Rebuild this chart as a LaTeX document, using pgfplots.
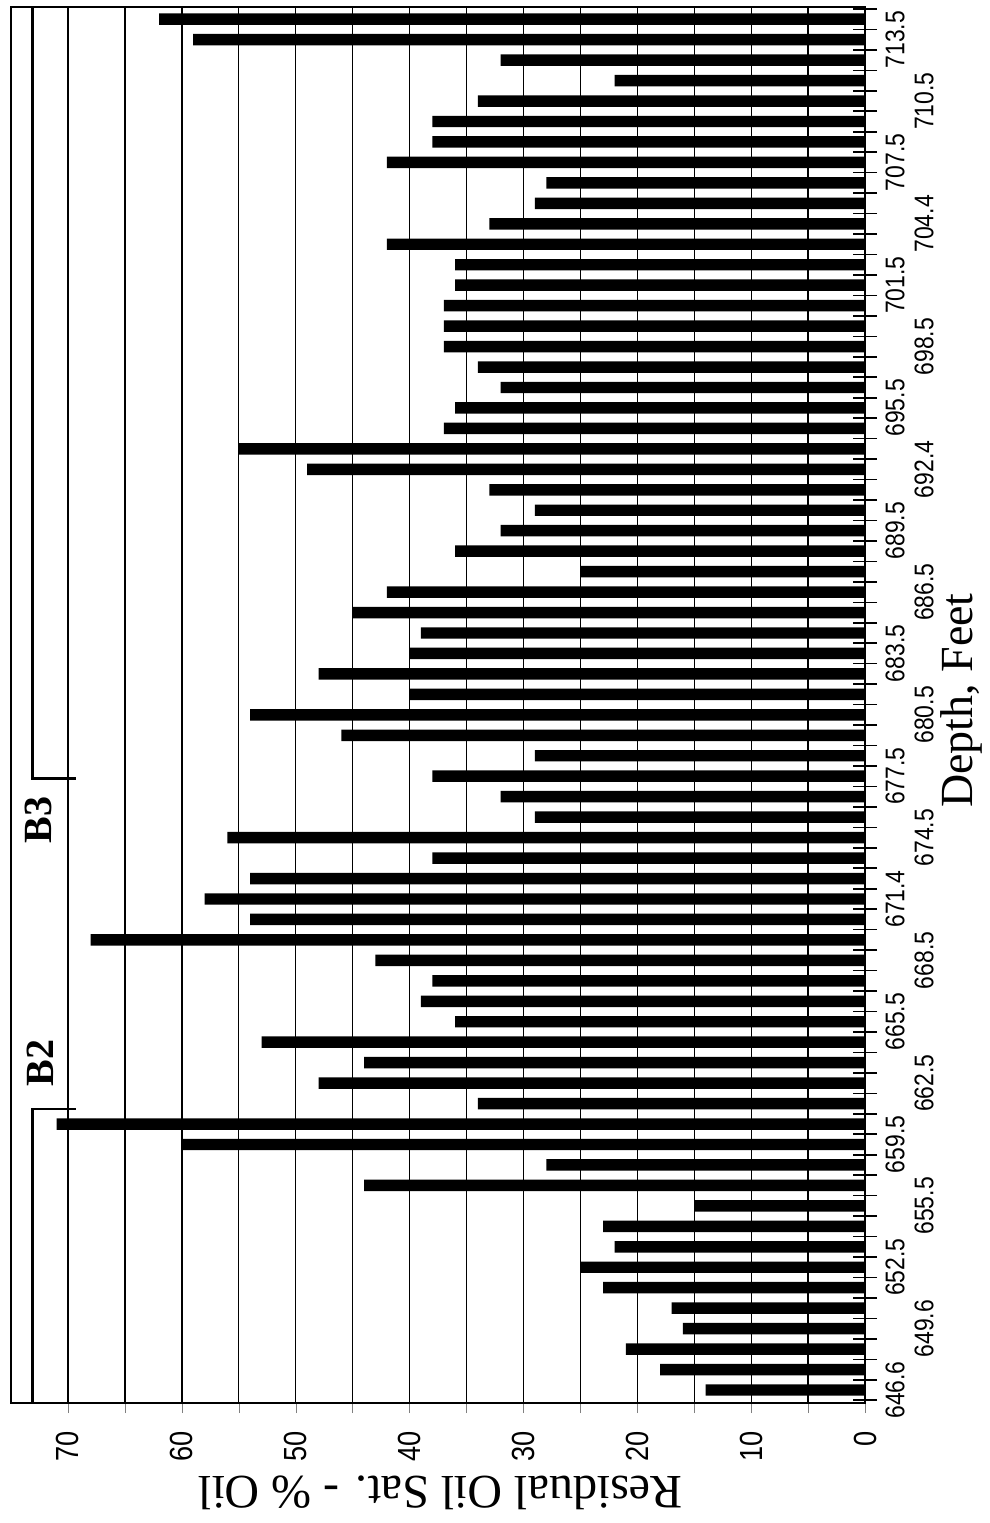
\documentclass[border=0pt]{standalone}
\usepackage{graphicx}
\usepackage{fontspec}
\setmainfont{Liberation Serif}
\newfontfamily\tickfont{Liberation Sans}[FakeStretch=0.85]
\usepackage{pgfplots}
\pgfplotsset{compat=1.18}
\newcommand{\vl}[1]{\rotatebox{90}{#1}}
\pgfplotstableread{
i v
0 14
1 18
2 21
3 16
4 17
5 23
6 25
7 22
8 23
9 15
10 44
11 28
12 60
13 71
14 34
15 48
16 44
17 53
18 36
19 39
20 38
21 43
22 68
23 54
24 58
25 54
26 38
27 56
28 29
29 32
30 38
31 29
32 46
33 54
34 40
35 48
36 40
37 39
38 45
39 42
40 25
41 36
42 32
43 29
44 33
45 49
46 55
47 37
48 36
49 32
50 34
51 37
52 37
53 37
54 36
55 36
56 42
57 33
58 29
59 28
60 42
61 38
62 38
63 34
64 22
65 32
66 59
67 62
}\oildata
\begin{document}
\begin{tikzpicture}
\begin{axis}[
  scale only axis,
  width=427pt, height=698pt,
  x dir=reverse,
  xmin=0, xmax=75,
  ymin=-0.64, ymax=67.6,
  clip=false,
  axis line style={line width=1pt},
  xtick pos=left,
  ytick pos=right,
  yticklabel pos=right,
  xtick={0,5,...,70},
  xticklabels={\vl{0},,\vl{10},,\vl{20},,\vl{30},,\vl{40},,\vl{50},,\vl{60},,\vl{70}},
  xtick align=outside,
  major tick length=5pt,
  minor tick length=12pt,
  xmajorgrids,
  grid style={black, line width=0.7pt},
  xticklabel style={font=\tickfont\fontsize{16}{16}\selectfont, anchor=north, inner sep=0pt, yshift=-9pt},
  ytick={0,3,...,66},
  yticklabels={\vl{646.6},\vl{649.6},\vl{652.5},\vl{655.5},\vl{659.5},\vl{662.5},\vl{665.5},\vl{668.5},\vl{671.4},\vl{674.5},\vl{677.5},\vl{680.5},\vl{683.5},\vl{686.5},\vl{689.5},\vl{692.4},\vl{695.5},\vl{698.5},\vl{701.5},\vl{704.4},\vl{707.5},\vl{710.5},\vl{713.5}},
  major y tick style={draw=none},
  minor ytick={-0.5,0.5,...,67.5},
  ytick align=center,
  minor y tick style={line width=0.8pt, black},
  yticklabel style={font=\tickfont\fontsize{13.5}{13.5}\selectfont, anchor=west, inner sep=0pt, xshift={(7.5+14.5*mod(\ticknum,2))*1pt}},
  xlabel={Residual Oil Sat. - \% Oil},
  xlabel style={at={(axis cs:37.3,-5.04)}, anchor=center, rotate=180, font=\fontsize{24}{24}\selectfont},
]
\addplot[xbar, fill=black, draw=none, bar width=0.56, bar shift=0pt] table[x=v, y=i] {\oildata};
% bracket annotations
\draw[line width=1.3pt] (axis cs:73.1,67.6) -- (axis cs:73.1,29.9) -- (axis cs:69.3,29.9);
\draw[line width=1.3pt] (axis cs:73.1,-0.64) -- (axis cs:73.1,13.73) -- (axis cs:69.3,13.73);
\node[rotate=90, font=\bfseries\fontsize{20}{20}\selectfont] at (axis cs:72.6,27.86) {B3};
\node[rotate=90, font=\bfseries\fontsize{20}{20}\selectfont] at (axis cs:72.4,15.98) {B2};
\node[rotate=90, font=\fontsize{23}{23}\selectfont] at (axis cs:-8.5,33.7) {Depth, Feet};
\path (axis cs:75.97,-6.5) rectangle (axis cs:-10.71,67.94);
\end{axis}
\end{tikzpicture}
\end{document}
